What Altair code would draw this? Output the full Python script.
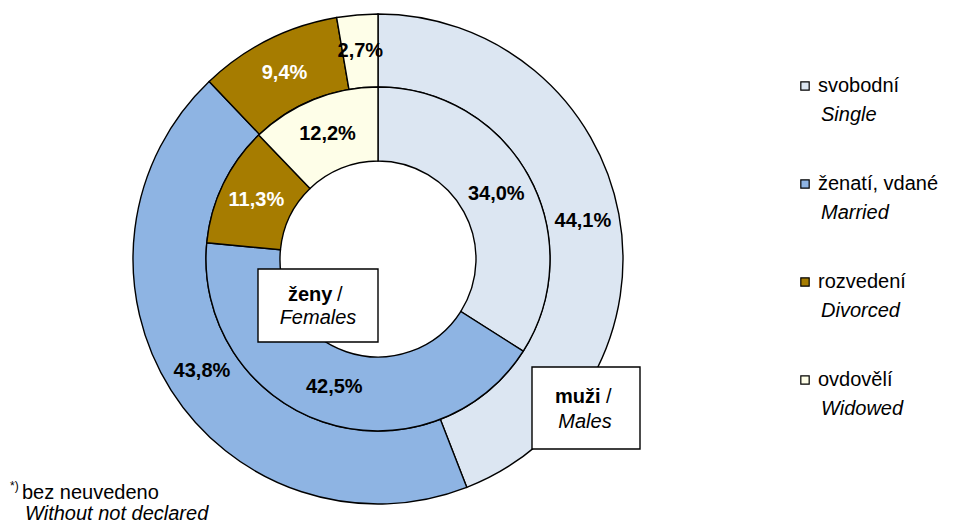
import altair as alt
import pandas as pd

# ---- data ----
cat_cz = ["svobodní", "ženatí, vdané", "rozvedení", "ovdovělí"]
cat_en = ["Single", "Married", "Divorced", "Widowed"]
males = [44.1, 43.8, 9.4, 2.7]
females = [34.0, 42.5, 11.3, 12.2]
colors = ["#DCE6F2", "#8EB4E3", "#A67C00", "#FEFEE8"]

def fmt(v):
    return f"{v:.1f}".replace(".", ",") + "%"

df_m = pd.DataFrame({"idx": range(4), "cat": cat_cz, "value": males,
                     "label": [fmt(v) for v in males]})
df_f = pd.DataFrame({"idx": range(4), "cat": cat_cz, "value": females,
                     "label": [fmt(v) for v in females]})
df_leg = pd.DataFrame({"idx": range(4), "cat": cat_cz, "en": cat_en})

FONT = "Liberation Sans"
CX, CY = 370, 251
R_OUT, R_MID, R_IN = 245, 172, 98

color_scale = alt.Scale(domain=cat_cz, range=colors)

def ring(df, r_out, r_in):
    return alt.Chart(df).mark_arc(outerRadius=r_out, innerRadius=r_in,
                                  stroke="black", strokeWidth=1.4).encode(
        theta=alt.Theta("value:Q", stack=True),
        order=alt.Order("idx:Q"),
        color=alt.Color("cat:N", scale=color_scale, legend=None),
        x=alt.value(CX), y=alt.value(CY),
    )

def labels(df, r):
    return alt.Chart(df).mark_text(radius=r, font=FONT, fontSize=20,
                                   fontWeight="bold").encode(
        theta=alt.Theta("value:Q", stack=True),
        order=alt.Order("idx:Q"),
        text="label:N",
        color=alt.condition("datum.cat == 'rozvedení'", alt.value("white"), alt.value("black")),
        x=alt.value(CX), y=alt.value(CY),
    )

outer = ring(df_m, R_OUT, R_MID)
inner = ring(df_f, R_MID, R_IN)
lab_out = labels(df_m, (R_OUT + R_MID) / 2)
lab_in = labels(df_f, (R_MID + R_IN) / 2)

# ---- boxes with ring titles ----
box_df = pd.DataFrame({"a": [0]})
def box(x1, y1, x2, y2):
    return alt.Chart(box_df).mark_rect(fill="white", stroke="black", strokeWidth=1.4).encode(
        x=alt.value(x1), x2=alt.value(x2), y=alt.value(y1), y2=alt.value(y2))

def txt(s, x, y, weight="normal", style="normal", size=20, align="left"):
    return alt.Chart(box_df).mark_text(text=s, font=FONT, fontSize=size, fontWeight=weight,
                                       fontStyle=style, align=align, baseline="middle",
                                       color="black").encode(x=alt.value(x), y=alt.value(y))

f_box = box(250, 261, 370, 334)
f_t1 = txt("ženy", 280, 287, weight="bold")
f_t1b = txt("/", 329, 287)
f_t2 = txt("Females", 310, 310, style="italic", align="center")

m_box = box(524, 359, 632, 441)
m_t1 = txt("muži", 547, 389, weight="bold")
m_t1b = txt("/", 598, 389)
m_t2 = txt("Males", 577, 414, style="italic", align="center")

# ---- legend ----
ly = alt.Y("idx:Q", scale=alt.Scale(domain=[0, 3], range=[78, 372]), axis=None)
leg_sq = alt.Chart(df_leg).mark_square(size=70, stroke="black", strokeWidth=1.2, opacity=1).encode(
    x=alt.value(797), y=ly,
    fill=alt.Color("cat:N", scale=color_scale, legend=None))
leg_t1 = alt.Chart(df_leg).mark_text(font=FONT, fontSize=20, align="left", baseline="middle",
                                     color="black").encode(x=alt.value(810), y=ly, text="cat:N")
ly2 = alt.Y("idx:Q", scale=alt.Scale(domain=[0, 3], range=[107, 401]), axis=None)
leg_t2 = alt.Chart(df_leg).mark_text(font=FONT, fontSize=20, fontStyle="italic", align="left",
                                     baseline="middle", color="black").encode(
    x=alt.value(813), y=ly2, text="en:N")

# ---- footnote ----
fn0 = txt("*)", 2, 478, size=12)
fn1 = txt("bez neuvedeno", 14, 485, size=20)
fn2 = txt("Without not declared", 17, 506, style="italic", size=20)

chart = alt.layer(
    outer, inner, lab_out, lab_in,
    f_box, f_t1, f_t1b, f_t2, m_box, m_t1, m_t1b, m_t2,
    leg_sq, leg_t1, leg_t2, fn0, fn1, fn2,
).resolve_scale(y="independent").properties(
    width=942, height=517, autosize=alt.AutoSizeParams(type="none"), padding=0
).configure_view(stroke=None)

chart.save("out.html", embed_options={"renderer": "svg", "actions": False})
